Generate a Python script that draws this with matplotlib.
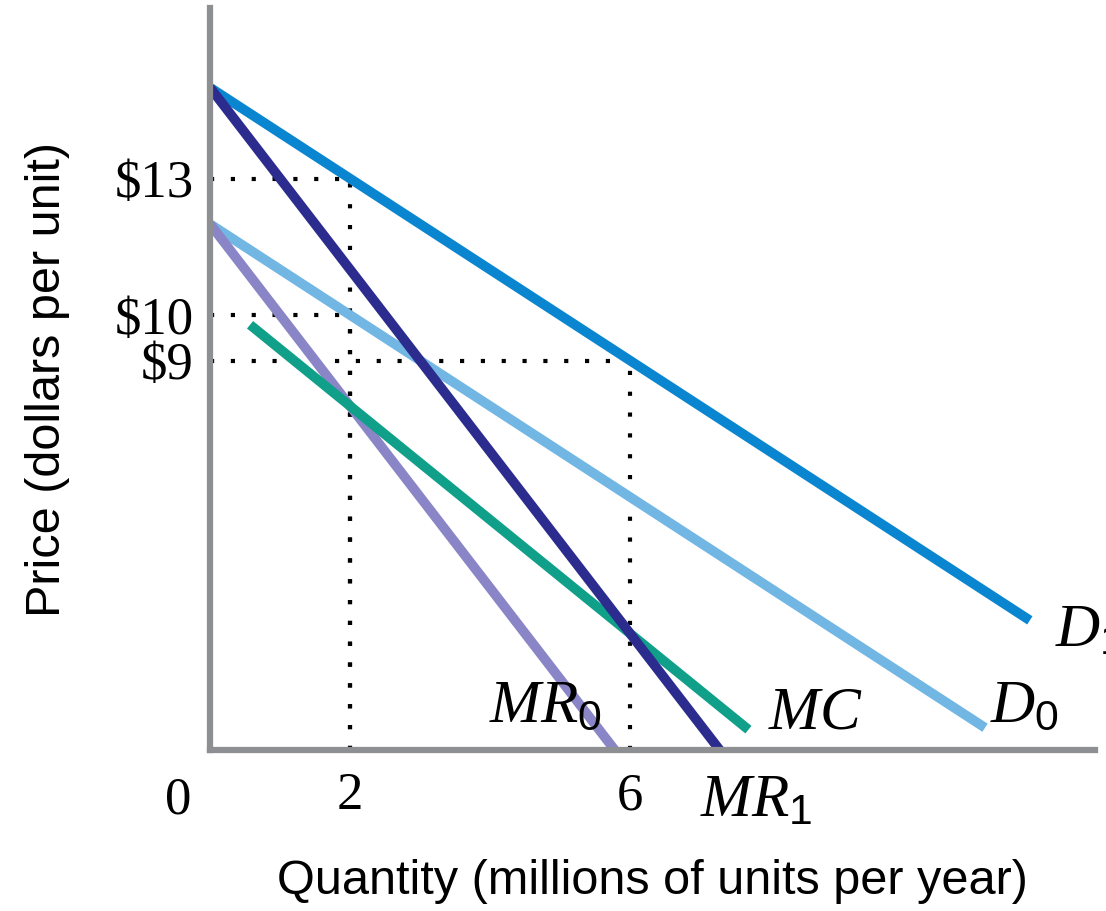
import numpy as np
import matplotlib
matplotlib.use("Agg")
import matplotlib.pyplot as plt

plt.rcParams['mathtext.fontset'] = 'custom'
plt.rcParams['mathtext.it'] = 'Liberation Serif:italic'
plt.rcParams['mathtext.rm'] = 'Liberation Sans'

# demand / marginal revenue / marginal cost curves: (x start, x end, intercept, slope)
d1 = (0.0, 11.71, 15.0, -1.0)
d0 = (0.0, 11.07, 12.0, -1.0)
mr1 = (0.0, 7.28, 15.0, -2.0)
mr0 = (0.0, 5.78, 12.0, -2.0)
mc = (0.57, 7.69, 10.5, -1.25)

# dotted guide points (quantity, price)
guides = [(2, 13), (2, 10), (6, 9)]

x_ticks = [2, 6]
y_ticks = [9, 10, 13]
y_tick_labels = ['\\$9', '\\$10', '\\$13']

y_floor = 0.44

fig = plt.figure(figsize=(11.06, 9.11), dpi=100)
ax = fig.add_axes([0.19, 0.1767, 0.80, 0.8145])
ax.set_xlim(0, 12.64)
ax.set_ylim(y_floor, 16.75)

def curve(spec, color):
    x0, x1, b, m = spec
    xs = np.array([x0, x1])
    ax.plot(xs, b + m * xs, color=color, lw=7, solid_capstyle='butt', zorder=3)

# guide lines first so curves sit on top
for qx, py in guides:
    ax.plot([0, qx], [py, py], color='black', lw=3, ls=(0, (1, 4)), zorder=1)
    ax.plot([qx, qx], [y_floor, py], color='black', lw=3, ls=(0, (1, 4)), zorder=1)

curve(d1, '#0a86d0')
curve(d0, '#72b6e4')
curve(mr0, '#8a85c6')
curve(mc, '#10a08a')
curve(mr1, '#2b2c8e')

for s in ['top', 'right']:
    ax.spines[s].set_visible(False)
for s in ['left', 'bottom']:
    ax.spines[s].set_color('#8e8f93')
    ax.spines[s].set_linewidth(4.5)
    ax.spines[s].set_zorder(4)

ax.tick_params(length=0)
ax.set_xticks(x_ticks)
ax.set_xticklabels([str(v) for v in x_ticks], fontfamily='Liberation Serif', fontsize=38)
ax.set_yticks(y_ticks)
ax.set_yticklabels(y_tick_labels, fontfamily='Liberation Serif', fontsize=38)
ax.tick_params(axis='x', pad=16)
ax.tick_params(axis='y', pad=12)
ax.text(-0.46, -0.66, '0', fontfamily='Liberation Serif', fontsize=38, ha='center', va='center')

ax.set_xlabel('Quantity (millions of units per year)', fontfamily='Liberation Sans', fontsize=35, labelpad=28)
ax.set_ylabel('Price (dollars per unit)', fontfamily='Liberation Sans', fontsize=35, labelpad=32)

lab = dict(fontsize=44, clip_on=False)
ax.text(12.07, 3.08, r'$D_1$', ha='left', va='center', **lab)
ax.text(11.14, 1.43, r'$D_0$', ha='left', va='center', **lab)
ax.text(7.97, 1.28, r'$MC$', ha='left', va='center', **lab)
ax.text(5.6, 1.43, r'$MR_0$', ha='right', va='center', **lab)
ax.text(7.0, -0.66, r'$MR_1$', ha='left', va='center', **lab)

fig.savefig('out.png', dpi=100)
